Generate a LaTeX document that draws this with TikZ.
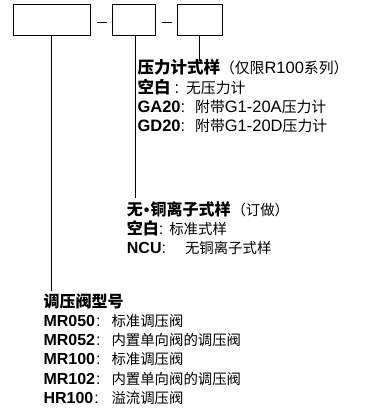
\documentclass[tikz,border=0pt]{standalone}
\usepackage{fontspec}
\setmainfont{Liberation Sans}
\newfontfamily\cjkfam{Noto Sans CJK SC}
\newfontfamily\cjkreg[Scale=0.9]{Noto Sans CJK SC}
\newcommand\zhb[1]{{\bfseries\cjkfam #1}}
\newcommand\zhs[1]{{\cjkreg #1}}
\begin{document}
\begin{tikzpicture}[x=1pt,y=-1pt,
  box/.style={draw, line width=0.8pt, minimum height=31pt, inner sep=0pt},
  lead/.style={line width=0.8pt},
  txt/.style={anchor=base west, inner sep=0pt, font=\fontsize{16}{19.3}\selectfont},
  txtb/.style={anchor=base west, inner sep=0pt, font=\fontsize{16.5}{19.3}\selectfont}]
\useasboundingbox (0,0) rectangle (367,412);
% boxes
\node[box, minimum width=77pt] (b1) at (51.5,20) {};
\node[box, minimum width=43pt] (b2) at (133.5,20) {};
\node[box, minimum width=45pt] (b3) at (199.5,20) {};
\draw[lead] (97,22.3) -- (107,22.3);
\draw[lead] (162,22.3) -- (172,22.3);
% leader ends
\coordinate (e1) at (51,291);
\coordinate (e2) at (135,198);
\coordinate (e3) at (199,61);
\draw[lead] (b1.south -| e1) -- (e1);
\draw[lead] (b2.south -| e2) -- (e2);
\draw[lead] (b3.south -| e3) -- (e3);
% group 3
\node[txtb] (t3a) at (137.3,74) {\zhb{压力计式样}\zhs{（仅限}R100\zhs{系列）}};
\node[txtb] (t3b) at (137.3,93.3) {\zhb{空白}\hspace{4pt}:\hspace{7pt}\zhs{无压力计}};
\node[txtb] (t3c) at (137.3,112.6) {\textbf{GA20}:\hspace{10pt}\zhs{附带}G1-20A\zhs{压力计}};
\node[txtb] (t3d) at (137.3,131.9) {\textbf{GD20}:\hspace{10pt}\zhs{附带}G1-20D\zhs{压力计}};
% group 2
\node[txt] (t2a) at (126.7,215) {\zhb{无}\hspace{1pt}\textbf{•}\hspace{1pt}\zhb{铜离子式样}\hspace{1pt}\zhs{（订做）}};
\node[txt] (t2b) at (126.7,234.3) {\zhb{空白}:\hspace{6pt}\zhs{标准式样}};
\node[txt] (t2c) at (126.7,253.6) {\textbf{NCU}:\hspace{19pt}\zhs{无铜离子式样}};
% group 1
\node[txt] (t1a) at (43.3,307) {\zhb{调压阀型号}};
\node[txt] (t1b) at (43.3,326.3) {\makebox[68pt][l]{\textbf{MR050}\hspace{1pt}:}\zhs{标准调压阀}};
\node[txt] (t1c) at (43.3,345.6) {\makebox[68pt][l]{\textbf{MR052}\hspace{1pt}:}\zhs{内置单向阀的调压阀}};
\node[txt] (t1d) at (43.3,364.9) {\makebox[68pt][l]{\textbf{MR100}\hspace{1pt}:}\zhs{标准调压阀}};
\node[txt] (t1e) at (43.3,384.2) {\makebox[68pt][l]{\textbf{MR102}\hspace{1pt}:}\zhs{内置单向阀的调压阀}};
\node[txt] (t1f) at (43.3,403.5) {\makebox[68pt][l]{\textbf{HR100}\hspace{1pt}:}\zhs{溢流调压阀}};
\end{tikzpicture}
\end{document}
